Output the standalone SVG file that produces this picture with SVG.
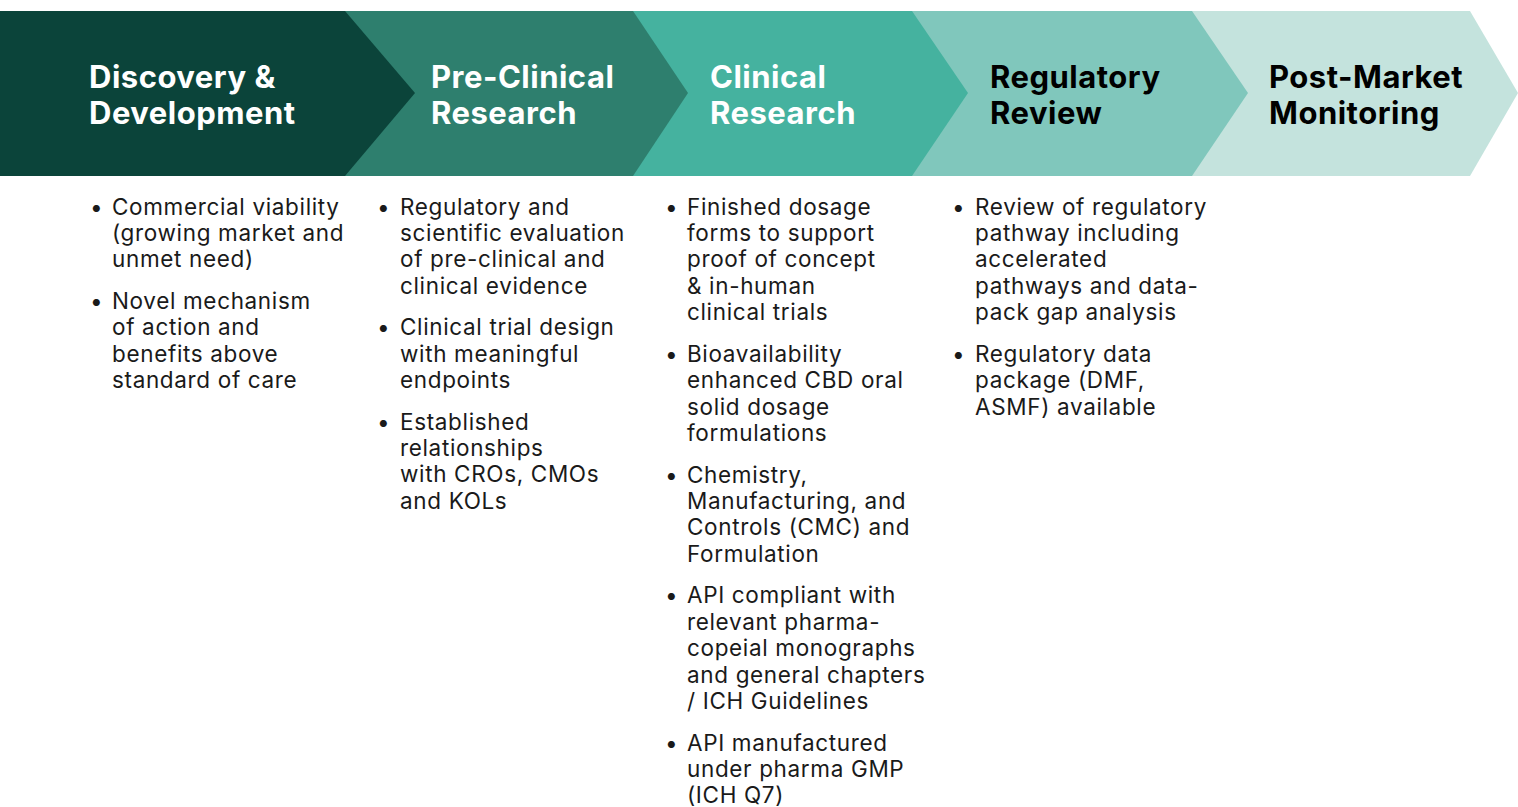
<svg xmlns="http://www.w3.org/2000/svg" width="1518" height="807" viewBox="0 0 1518 807">
<style>
.t{font-family:Inter,"Liberation Sans",sans-serif;font-weight:700;font-size:31px;letter-spacing:0.5px}
.w{fill:#ffffff}
.k{fill:#000000}
.b{font-family:Inter,"Liberation Sans",sans-serif;font-size:22.5px;letter-spacing:0.65px;fill:#1a1a1a}
</style>
<rect width="1518" height="807" fill="#ffffff"/>
<g id="stage5"><polygon points="1192,11 1470,11 1518,93 1470,176 1192,176" fill="#c4e3dd"/>
<text class="t k" x="1269" y="88">Post-Market</text><text class="t k" x="1269" y="124">Monitoring</text></g>
<g id="stage4"><polygon points="912,11 1192,11 1248,93 1192,176 912,176" fill="#80c7bc"/>
<text class="t k" x="990" y="88">Regulatory</text><text class="t k" x="990" y="124">Review</text></g>
<g id="stage3"><polygon points="632,11 912,11 968,93 912,176 632,176" fill="#45b29f"/>
<text class="t w" x="710" y="88">Clinical</text><text class="t w" x="710" y="124">Research</text></g>
<g id="stage2"><polygon points="345,11 633,11 688,93 633,176 345,176" fill="#2e7f6e"/>
<text class="t w" x="431" y="88">Pre-Clinical</text><text class="t w" x="431" y="124">Research</text></g>
<g id="stage1"><polygon points="0,11 345,11 415,93 345,176 0,176" fill="#0b443a"/>
<text class="t w" x="89" y="88">Discovery &amp;</text><text class="t w" x="89" y="124">Development</text></g>
<g id="col1" class="b">
<text x="90" y="215">•</text>
<text x="112" y="215">Commercial viability</text>
<text x="112" y="241">(growing market and</text>
<text x="112" y="267">unmet need)</text>
<text x="90" y="309">•</text>
<text x="112" y="309">Novel mechanism</text>
<text x="112" y="335">of action and</text>
<text x="112" y="362">benefits above</text>
<text x="112" y="388">standard of care</text>
</g>
<g id="col2" class="b">
<text x="377" y="215">•</text>
<text x="400" y="215">Regulatory and</text>
<text x="400" y="241">scientific evaluation</text>
<text x="400" y="267">of pre-clinical and</text>
<text x="400" y="294">clinical evidence</text>
<text x="377" y="335">•</text>
<text x="400" y="335">Clinical trial design</text>
<text x="400" y="362">with meaningful</text>
<text x="400" y="388">endpoints</text>
<text x="377" y="430">•</text>
<text x="400" y="430">Established</text>
<text x="400" y="456">relationships</text>
<text x="400" y="482">with CROs, CMOs</text>
<text x="400" y="509">and KOLs</text>
</g>
<g id="col3" class="b">
<text x="665" y="215">•</text>
<text x="687" y="215">Finished dosage</text>
<text x="687" y="241">forms to support</text>
<text x="687" y="267">proof of concept</text>
<text x="687" y="294">&amp; in-human</text>
<text x="687" y="320">clinical trials</text>
<text x="665" y="362">•</text>
<text x="687" y="362">Bioavailability</text>
<text x="687" y="388">enhanced CBD oral</text>
<text x="687" y="415">solid dosage</text>
<text x="687" y="441">formulations</text>
<text x="665" y="483">•</text>
<text x="687" y="483">Chemistry,</text>
<text x="687" y="509">Manufacturing, and</text>
<text x="687" y="535">Controls (CMC) and</text>
<text x="687" y="562">Formulation</text>
<text x="665" y="603">•</text>
<text x="687" y="603">API compliant with</text>
<text x="687" y="630">relevant pharma-</text>
<text x="687" y="656">copeial monographs</text>
<text x="687" y="683">and general chapters</text>
<text x="687" y="709">/ ICH Guidelines</text>
<text x="665" y="751">•</text>
<text x="687" y="751">API manufactured</text>
<text x="687" y="777">under pharma GMP</text>
<text x="687" y="803">(ICH Q7)</text>
</g>
<g id="col4" class="b">
<text x="952" y="215">•</text>
<text x="975" y="215">Review of regulatory</text>
<text x="975" y="241">pathway including</text>
<text x="975" y="267">accelerated</text>
<text x="975" y="294">pathways and data-</text>
<text x="975" y="320">pack gap analysis</text>
<text x="952" y="362">•</text>
<text x="975" y="362">Regulatory data</text>
<text x="975" y="388">package (DMF,</text>
<text x="975" y="415">ASMF) available</text>
</g>
<g id="connectors"></g>
</svg>
